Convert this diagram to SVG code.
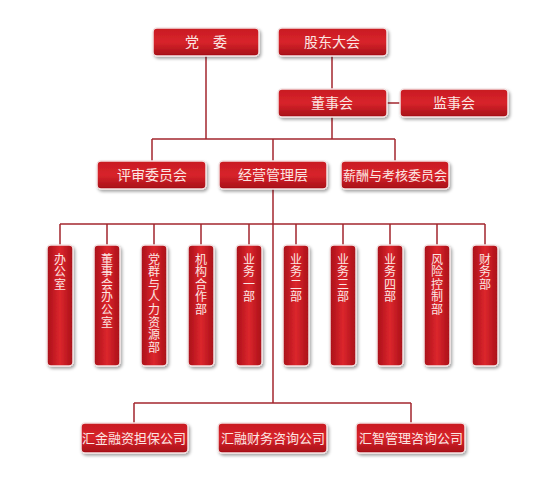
<svg xmlns="http://www.w3.org/2000/svg" width="559" height="500" viewBox="0 0 559 500">
<defs>
<linearGradient id="gh" x1="0" y1="0" x2="0" y2="1">
<stop offset="0" stop-color="#c81a22"/>
<stop offset="0.5" stop-color="#d8242b"/>
<stop offset="1" stop-color="#a50f17"/>
</linearGradient>
<linearGradient id="gv" x1="0" y1="0" x2="1" y2="0">
<stop offset="0" stop-color="#a80f18"/>
<stop offset="0.5" stop-color="#dc262d"/>
<stop offset="1" stop-color="#a80f18"/>
</linearGradient>
<filter id="sh" x="-20%" y="-20%" width="140%" height="140%">
<feDropShadow dx="1.5" dy="2" stdDeviation="1.5" flood-color="#000" flood-opacity="0.35"/>
</filter>
</defs>
<style>
.h{fill:url(#gh);stroke:#f3e4e4;stroke-width:1.5;filter:url(#sh)}
.v{fill:url(#gv);stroke:#f3e4e4;stroke-width:1.5;filter:url(#sh)}
.t{font-family:"Noto Sans CJK SC","Noto Sans",sans-serif;font-size:13px;fill:#fbe6e3;text-anchor:middle}
.t14{font-size:14px}
.vt{font-family:"Noto Sans CJK SC","Noto Sans",sans-serif;font-size:12px;fill:#fbe6e3;writing-mode:vertical-rl;text-anchor:start;letter-spacing:0.6px}
.ln{stroke:#a3262e;stroke-width:1.5;fill:none}
</style>
<rect width="559" height="500" fill="#ffffff"/>
<g id="connectors" class="ln">
<path d="M206 56V139"/>
<path d="M332 56V89"/>
<path d="M332 117V139"/>
<path d="M387 103H400"/>
<path d="M152 139H395"/>
<path d="M152 139V161"/>
<path d="M273 139V161"/>
<path d="M395 139V161"/>
<path d="M273 189V403"/>
<path d="M60 224H485"/>
<path d="M60 224V245M107 224V245M154 224V245M201 224V245M249 224V245M296 224V245M343 224V245M390 224V245M437 224V245M485 224V245"/>
<path d="M134 403H411"/>
<path d="M134 403V423M411 403V423"/>
</g>
<g id="n_dangwei"><rect class="h" x="153" y="28" width="106" height="28" rx="4"/><text class="t t14" x="206" y="47">党　委</text></g>
<g id="n_gudong"><rect class="h" x="278" y="28" width="109" height="28" rx="4"/><text class="t t14" x="332" y="47">股东大会</text></g>
<g id="n_dongshi"><rect class="h" x="278" y="89" width="109" height="28" rx="4"/><text class="t t14" x="332" y="108">董事会</text></g>
<g id="n_jianshi"><rect class="h" x="400" y="89" width="108" height="28" rx="4"/><text class="t t14" x="454" y="108">监事会</text></g>
<g id="n_pingshen"><rect class="h" x="97" y="161" width="109" height="28" rx="4"/><text class="t t14" x="152" y="180">评审委员会</text></g>
<g id="n_jingying"><rect class="h" x="219" y="161" width="108" height="28" rx="4"/><text class="t t14" x="273" y="180">经营管理层</text></g>
<g id="n_xinchou"><rect class="h" x="341" y="161" width="108" height="28" rx="4"/><text class="t" x="395" y="180">薪酬与考核委员会</text></g>
<g id="d1"><rect class="v" x="47" y="245" width="26" height="121" rx="4"/><text class="vt" x="60" y="253">办公室</text></g>
<g id="d2"><rect class="v" x="94" y="245" width="26" height="121" rx="4"/><text class="vt" x="107" y="253">董事会办公室</text></g>
<g id="d3"><rect class="v" x="141" y="245" width="26" height="121" rx="4"/><text class="vt" x="154" y="253">党群与人力资源部</text></g>
<g id="d4"><rect class="v" x="188" y="245" width="26" height="121" rx="4"/><text class="vt" x="201" y="253">机构合作部</text></g>
<g id="d5"><rect class="v" x="236" y="245" width="26" height="121" rx="4"/><text class="vt" x="249" y="253">业务一部</text></g>
<g id="d6"><rect class="v" x="283" y="245" width="26" height="121" rx="4"/><text class="vt" x="296" y="253">业务二部</text></g>
<g id="d7"><rect class="v" x="330" y="245" width="26" height="121" rx="4"/><text class="vt" x="343" y="253">业务三部</text></g>
<g id="d8"><rect class="v" x="377" y="245" width="26" height="121" rx="4"/><text class="vt" x="390" y="253">业务四部</text></g>
<g id="d9"><rect class="v" x="424" y="245" width="26" height="121" rx="4"/><text class="vt" x="437" y="253">风险控制部</text></g>
<g id="d10"><rect class="v" x="472" y="245" width="26" height="121" rx="4"/><text class="vt" x="485" y="253">财务部</text></g>
<g id="c1"><rect class="h" x="81" y="423" width="107" height="30" rx="4"/><text class="t" x="134" y="443">汇金融资担保公司</text></g>
<g id="c2"><rect class="h" x="218" y="423" width="109" height="30" rx="4"/><text class="t" x="273" y="443">汇融财务咨询公司</text></g>
<g id="c3"><rect class="h" x="356" y="423" width="109" height="30" rx="4"/><text class="t" x="411" y="443">汇智管理咨询公司</text></g>
</svg>
